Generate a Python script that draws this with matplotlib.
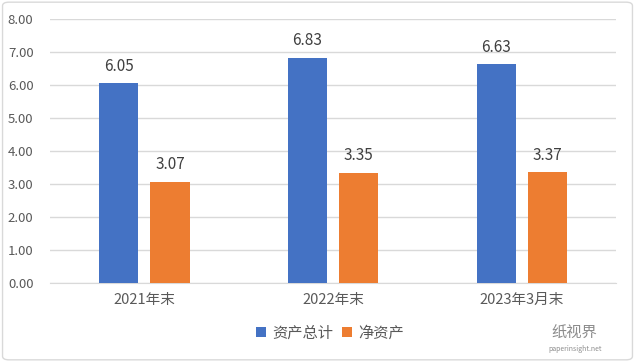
import matplotlib
matplotlib.use("Agg")
from matplotlib import pyplot as plt
from matplotlib.patches import FancyBboxPatch
import numpy as np

plt.rcParams['font.family'] = ['Noto Sans CJK SC', 'DejaVu Sans']

categories = ["2021年末", "2022年末", "2023年3月末"]
total_assets = [6.05, 6.83, 6.63]
net_assets = [3.07, 3.35, 3.37]
series_names = ["资产总计", "净资产"]

blue = "#4472C4"
orange = "#ED7D31"
text_grey = "#595959"

fig = plt.figure(figsize=(6.35, 3.62), dpi=100)
ax = fig.add_axes([0.079, 0.218, 0.891, 0.7295])

x = np.arange(len(categories))
w = 0.207
gap = 0.064
off = (w + gap) / 2

b1 = ax.bar(x - off, total_assets, width=w, color=blue, label=series_names[0], zorder=3)
b2 = ax.bar(x + off, net_assets, width=w, color=orange, label=series_names[1], zorder=3)

for bars in (b1, b2):
    for rect in bars:
        ax.annotate(f"{rect.get_height():.2f}",
                    (rect.get_x() + rect.get_width() / 2, rect.get_height()),
                    xytext=(0, 6), textcoords="offset points",
                    ha="center", va="bottom", fontsize=11, color="#404040")

ax.set_xlim(-0.5, len(categories) - 0.5)
ax.set_ylim(0, 8)
ax.set_yticks(np.arange(0, 9, 1))
ax.set_yticklabels([f"{v:.2f}" for v in np.arange(0, 9, 1)])
ax.set_xticks(x)
ax.set_xticklabels(categories)
ax.tick_params(axis="y", length=0, labelsize=9.5, colors=text_grey, pad=12)
ax.tick_params(axis="x", length=0, labelsize=10.5, colors=text_grey, pad=7)
ax.yaxis.grid(True, color="#D9D9D9", linewidth=1, zorder=0)
for s in ("top", "right", "left"):
    ax.spines[s].set_visible(False)
ax.spines["bottom"].set_color("#D9D9D9")

fig.legend(loc="center", bbox_to_anchor=(0.52, 0.08), ncol=2, frameon=False,
           fontsize=11, handlelength=0.65, handleheight=0.65, handletextpad=0.4,
           columnspacing=0.6, labelcolor=text_grey)

border = FancyBboxPatch((0.004, 0.006), 0.992, 0.988, boxstyle="round,pad=0,rounding_size=0.01",
                        transform=fig.transFigure, fill=False, edgecolor="#D9D9D9", linewidth=1)
fig.patches.append(border)

fig.text(0.905, 0.08, "纸视界", fontsize=11, color="#8C8C8C", ha="center", va="center")
fig.text(0.905, 0.035, "paperinsight.net", fontsize=5, color="#8C8C8C", ha="center", va="center")

fig.savefig("out.png", dpi=100)
